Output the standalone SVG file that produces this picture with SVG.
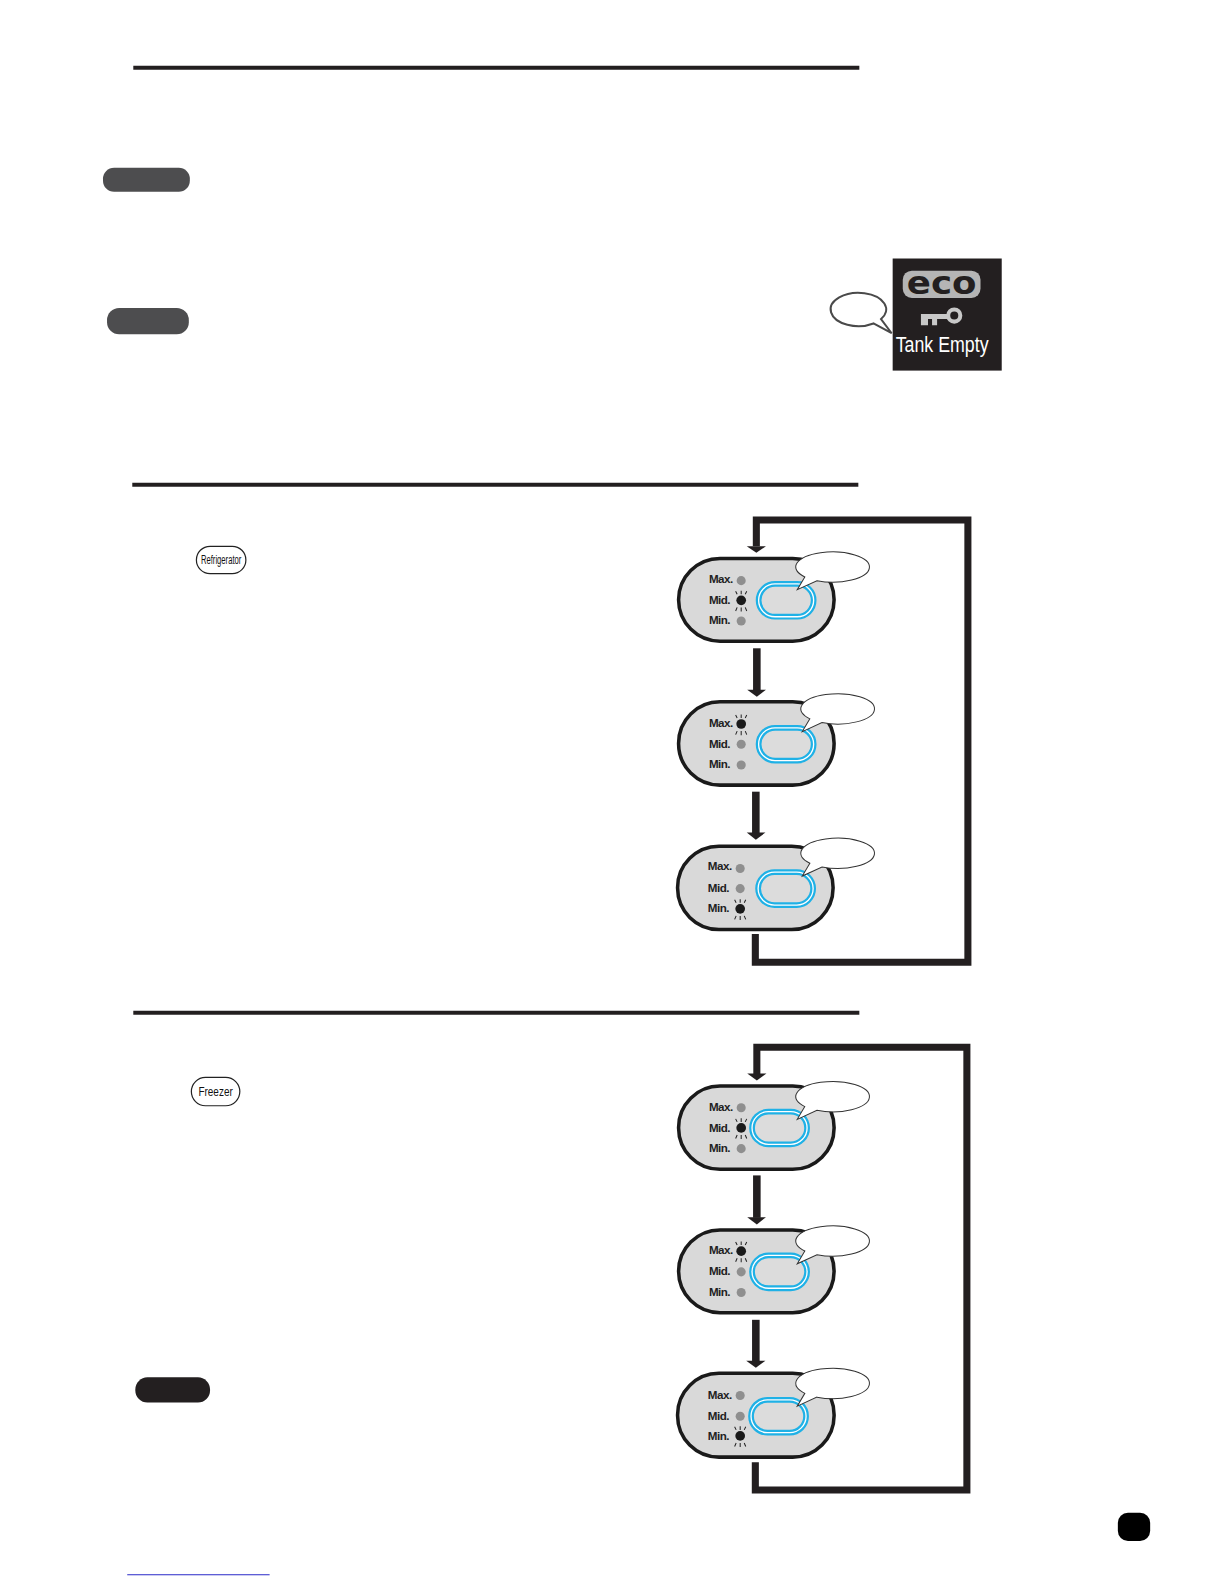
<svg xmlns="http://www.w3.org/2000/svg" width="1224" height="1584" viewBox="0 0 1224 1584">
<style>
.rule{stroke:#231f20;stroke-width:4;fill:none}
.pill{stroke:none}
.wire{fill:none;stroke:#231f20;stroke-width:7;stroke-miterlimit:10}
.shaft{fill:none;stroke:#231f20;stroke-width:7.500}
.head{fill:#231f20}
.body{fill:#d9d9d9;stroke:#1a1a1a;stroke-width:3.500}
.btn{fill:#fff;stroke:#1fb1e6;stroke-width:2.200}
.btn2{fill:#dcdcdc;stroke:#1fb1e6;stroke-width:2.200}
.lbl{font:bold 11.500px "Liberation Sans",Arial,sans-serif;fill:#222;letter-spacing:-.5px}
.off{fill:#8f8f8f}
.on{fill:#1a1a1a}
.ray{stroke:#222;stroke-width:1;fill:none}
.bub{fill:#fff;stroke:#333;stroke-width:1}
.key{font-family:"Liberation Sans",Arial,sans-serif;fill:#111}
</style>
<defs>
<g id="rays"><path class="ray" d="M-4 -6L-5.500 -9M0 -6V-9.500M4 -6L5.500 -9M-4 7L-5.500 10.500M0 7V11M4 7L5.500 10.500"/></g>
<path id="bubble" class="bub" d="M-27.500 9.860L-35 22.500L-15.500 13.580A36.500 15 0 1 0 -27.500 9.860Z"/>
<g id="button"><rect class="btn" x="-29" y="-18" width="58" height="36" rx="18"/><rect class="btn2" x="-25.500" y="-14.500" width="51" height="29" rx="14.500"/></g>
</defs>
<g transform="scale(1.0098)">
<g id="rules">
<line class="rule" x1="132" y1="67" x2="851" y2="67"/>
<line class="rule" x1="131" y1="480" x2="850" y2="480"/>
<line class="rule" x1="132" y1="1003" x2="851" y2="1003"/>
</g>

<g id="note-pill-1"><rect class="pill" x="102" y="166" width="86" height="24" rx="11" fill="#4d4d4f"/></g>
<g id="note-pill-2"><rect class="pill" x="106" y="305" width="81" height="26" rx="12" fill="#4d4d4f"/></g>
<g id="note-pill-3"><rect class="pill" x="134" y="1364" width="74" height="25" rx="12" fill="#231f20"/></g>
<g id="page-pill"><rect class="pill" x="1107" y="1498" width="32" height="28" rx="10" fill="#000"/></g>
<g id="link-line"><line x1="126" y1="1559.500" x2="267" y2="1559.500" stroke="#2a2ac8" stroke-width="1"/></g>

<g id="eco-display">
<rect x="884" y="256" width="108" height="111" fill="#231f20"/>
<rect x="894" y="268" width="77" height="27" rx="9" fill="#b5b5b5"/>
<text x="898" y="291" font-family="'DejaVu Sans',sans-serif" font-size="32" font-weight="bold" fill="#231f20" textLength="69" lengthAdjust="spacingAndGlyphs">eco</text>
<circle cx="945" cy="312.500" r="6" fill="none" stroke="#c8c8c8" stroke-width="4"/>
<path d="M912 311H940V316H928V322H923V316H919V322H912Z" fill="#c8c8c8"/>
<text x="887" y="349" font-family="'Liberation Sans',Arial,sans-serif" font-size="22" fill="#fff" textLength="92" lengthAdjust="spacingAndGlyphs">Tank Empty</text>
</g>
<g id="eco-bubble">
<path d="M872.500 316L883 330L865 320.300A27.500 16.500 0 1 1 872.500 316Z" fill="#fff" stroke="#4a4a4a" stroke-width="2"/>
</g>

<g id="refrigerator-key"><rect x="194.500" y="541" width="49" height="27" rx="13.500" fill="#fff" stroke="#222" stroke-width="1.200"/><text class="key" x="219" y="558.500" font-size="13" text-anchor="middle" textLength="40" lengthAdjust="spacingAndGlyphs">Refrigerator</text></g>
<g id="freezer-key"><rect x="189.500" y="1067" width="48" height="28" rx="14" fill="#fff" stroke="#222" stroke-width="1.200"/><text class="key" x="213.500" y="1085.500" font-size="13" text-anchor="middle" textLength="34" lengthAdjust="spacingAndGlyphs">Freezer</text></g>

<g id="connectors">
<path class="wire" d="M749 541V515H958.500V953H748V925"/>
<path class="head" d="M739.500 541H758.500L749 547.500Z"/>
<path class="shaft" d="M749.500 642V684"/>
<path class="head" d="M740 683H758.500L749.500 690Z"/>
<path class="shaft" d="M748.500 784V825"/>
<path class="head" d="M739.500 824.500H758L748.500 831.500Z"/>
<path class="wire" d="M749.500 1064V1037H957.500V1475.500H748V1448"/>
<path class="head" d="M740 1063H759L749.500 1070Z"/>
<path class="shaft" d="M749.500 1164V1206"/>
<path class="head" d="M740 1205.500H758.500L749.500 1212.500Z"/>
<path class="shaft" d="M748.500 1307V1348"/>
<path class="head" d="M739 1347.500H758L748.500 1354.500Z"/>
</g>

<g id="ref-mid">
<rect class="body" x="672" y="553" width="154" height="82" rx="41"/>
<use href="#button" x="778.500" y="594.500"/>
<text class="lbl" x="702" y="577">Max.</text><text class="lbl" x="702" y="598">Mid.</text><text class="lbl" x="702" y="618">Min.</text>
<circle class="off" cx="734" cy="575" r="4.500"/><circle class="on" cx="734" cy="594.500" r="4.800"/><circle class="off" cx="734" cy="615" r="4.500"/>
<use href="#rays" x="734" y="594.500"/>
<use href="#bubble" x="824.500" y="561.500"/>
</g>

<g id="ref-max">
<rect class="body" x="672" y="695" width="154" height="82.500" rx="41"/>
<use href="#button" x="778.500" y="737"/>
<text class="lbl" x="702" y="720">Max.</text><text class="lbl" x="702" y="741">Mid.</text><text class="lbl" x="702" y="761">Min.</text>
<circle class="on" cx="734" cy="717" r="4.800"/><circle class="off" cx="734" cy="737" r="4.500"/><circle class="off" cx="734" cy="757.500" r="4.500"/>
<use href="#rays" x="734" y="717"/>
<use href="#bubble" x="829.500" y="702"/>
</g>

<g id="ref-min">
<rect class="body" x="671" y="838" width="154" height="82.500" rx="41"/>
<use href="#button" x="778" y="880"/>
<text class="lbl" x="701" y="862">Max.</text><text class="lbl" x="701" y="883">Mid.</text><text class="lbl" x="701" y="903">Min.</text>
<circle class="off" cx="733" cy="860" r="4.500"/><circle class="off" cx="733" cy="880" r="4.500"/><circle class="on" cx="733" cy="900" r="4.800"/>
<use href="#rays" x="733" y="900"/>
<use href="#bubble" x="829.500" y="845"/>
</g>

<g id="frz-mid">
<rect class="body" x="672" y="1075.500" width="154" height="82.500" rx="41"/>
<use href="#button" x="772" y="1117"/>
<text class="lbl" x="702" y="1100">Max.</text><text class="lbl" x="702" y="1121">Mid.</text><text class="lbl" x="702" y="1141">Min.</text>
<circle class="off" cx="734" cy="1097" r="4.500"/><circle class="on" cx="734" cy="1117" r="4.800"/><circle class="off" cx="734" cy="1137.500" r="4.500"/>
<use href="#rays" x="734" y="1117"/>
<use href="#bubble" x="824.500" y="1086"/>
</g>

<g id="frz-max">
<rect class="body" x="672" y="1218" width="154" height="82" rx="41"/>
<use href="#button" x="772" y="1259.500"/>
<text class="lbl" x="702" y="1242">Max.</text><text class="lbl" x="702" y="1263">Mid.</text><text class="lbl" x="702" y="1283">Min.</text>
<circle class="on" cx="734" cy="1239" r="4.800"/><circle class="off" cx="734" cy="1259.500" r="4.500"/><circle class="off" cx="734" cy="1280" r="4.500"/>
<use href="#rays" x="734" y="1239"/>
<use href="#bubble" x="824.500" y="1229"/>
</g>

<g id="frz-min">
<rect class="body" x="671" y="1360" width="155" height="83" rx="41"/>
<use href="#button" x="771" y="1402.500"/>
<text class="lbl" x="701" y="1385">Max.</text><text class="lbl" x="701" y="1406">Mid.</text><text class="lbl" x="701" y="1426">Min.</text>
<circle class="off" cx="733" cy="1382" r="4.500"/><circle class="off" cx="733" cy="1402.500" r="4.500"/><circle class="on" cx="733" cy="1422" r="4.800"/>
<use href="#rays" x="733" y="1422"/>
<use href="#bubble" x="824.500" y="1370"/>
</g>
</g>
</svg>
